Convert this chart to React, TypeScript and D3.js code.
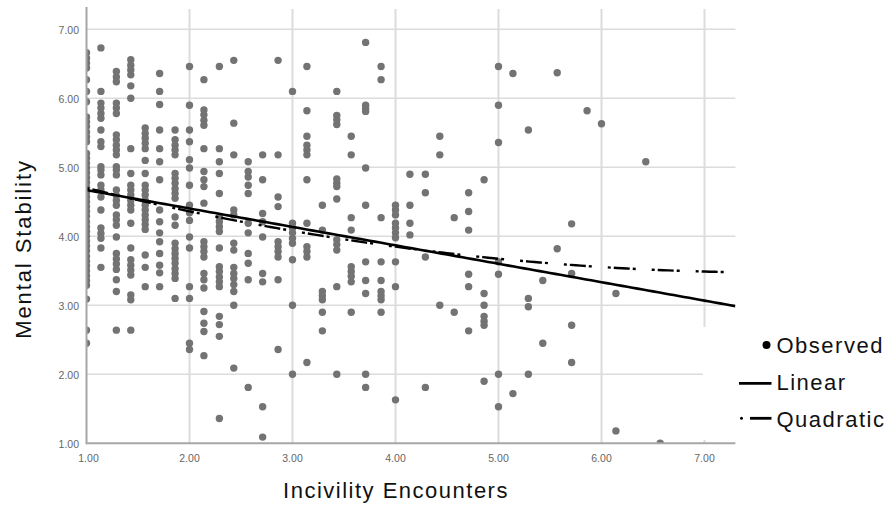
import React from 'react';
import * as d3 from 'd3';

// Incivility Encounters (x) levels and the Mental Stability scores observed at each level
const incivilityLevels = [
  1.0, 1.14, 1.29, 1.43, 1.57, 1.71, 1.86, 2.0, 2.14, 2.29, 2.43, 2.57, 2.71, 2.86,
  3.0, 3.14, 3.29, 3.43, 3.57, 3.71, 3.86, 4.0, 4.14, 4.29, 4.43, 4.57, 4.71, 4.86,
  5.0, 5.14, 5.29, 5.43, 5.57, 5.71, 5.86, 6.0, 6.14, 6.43, 6.57,
];

const stabilityScores: number[][] = [
  [6.66, 6.58, 6.51, 6.44, 6.27, 6.1, 5.95, 5.73, 5.66, 5.59, 5.51, 5.44, 5.37, 5.2, 5.13, 5.06, 4.99, 4.92, 4.85, 4.78, 4.71, 4.64, 4.57, 4.5, 4.43, 4.36, 4.29, 4.21, 4.14, 4.07, 4.0, 3.93, 3.86, 3.79, 3.71, 3.64, 3.57, 3.5, 3.43, 3.36, 3.29, 3.09, 2.64, 2.45],
  [6.73, 6.1, 5.93, 5.86, 5.78, 5.71, 5.54, 5.37, 5.3, 5.01, 4.96, 4.89, 4.74, 4.67, 4.57, 4.38, 4.12, 4.04, 3.97, 3.83, 3.55],
  [6.39, 6.31, 6.24, 5.93, 5.86, 5.78, 5.47, 5.4, 5.32, 5.25, 5.18, 5.01, 4.96, 4.89, 4.67, 4.59, 4.52, 4.45, 4.31, 4.24, 4.16, 3.99, 3.75, 3.67, 3.6, 3.52, 3.37, 3.2, 2.64],
  [6.56, 6.48, 6.41, 6.34, 6.18, 6.0, 5.27, 4.91, 4.74, 4.67, 4.6, 4.52, 4.45, 4.38, 4.19, 3.83, 3.66, 3.58, 3.51, 3.44, 3.15, 3.08, 2.64],
  [5.57, 5.49, 5.42, 5.35, 5.27, 5.1, 4.91, 4.74, 4.67, 4.6, 4.52, 4.45, 4.38, 4.31, 4.24, 4.17, 4.1, 3.73, 3.55, 3.27],
  [6.36, 6.1, 5.91, 5.54, 5.27, 5.08, 4.82, 4.38, 4.21, 4.05, 3.92, 3.75, 3.58, 3.47, 3.27],
  [5.54, 5.4, 5.32, 5.25, 5.18, 4.91, 4.84, 4.77, 4.69, 4.62, 4.55, 4.28, 4.16, 3.9, 3.82, 3.75, 3.68, 3.61, 3.53, 3.46, 3.39, 3.1],
  [6.46, 5.9, 5.54, 5.37, 5.11, 4.99, 4.74, 4.45, 4.34, 4.23, 3.99, 3.83, 3.27, 3.1, 2.45, 2.36],
  [6.27, 5.83, 5.76, 5.68, 5.61, 5.27, 4.94, 4.82, 4.72, 4.48, 3.92, 3.85, 3.78, 3.7, 3.46, 3.37, 3.25, 2.91, 2.74, 2.62, 2.27],
  [6.46, 5.27, 5.08, 4.91, 4.62, 4.28, 4.21, 4.14, 4.07, 3.83, 3.56, 3.49, 3.41, 3.34, 3.27, 2.84, 2.72, 2.55, 1.36],
  [6.55, 5.64, 5.18, 4.38, 4.31, 3.9, 3.8, 3.55, 3.46, 3.39, 3.3, 3.2, 3.0, 2.09],
  [5.08, 4.94, 4.86, 4.74, 4.62, 4.19, 4.05, 3.75, 3.61, 3.37, 1.81],
  [5.18, 4.82, 4.33, 4.21, 3.99, 3.46, 3.34, 1.53, 1.09],
  [6.55, 5.18, 4.57, 4.43, 3.92, 3.85, 3.78, 3.7, 3.37, 2.36],
  [6.1, 4.19, 4.12, 4.05, 3.97, 3.9, 3.66, 3.0, 2.0],
  [6.46, 5.82, 5.45, 5.32, 5.25, 5.18, 4.82, 4.19, 3.85, 3.78, 3.7, 2.17],
  [4.45, 4.09, 3.2, 3.14, 3.08, 2.9, 2.63],
  [6.1, 5.75, 5.69, 5.62, 4.83, 4.77, 4.72, 4.54, 3.95, 3.88, 3.8, 3.27, 2.0],
  [5.45, 5.18, 4.27, 4.09, 3.56, 3.49, 3.42, 3.34, 2.9],
  [6.81, 5.9, 5.85, 5.81, 4.99, 4.45, 3.63, 3.36, 3.17, 2.0, 1.81],
  [6.46, 6.27, 4.27, 3.63, 3.36, 3.2, 3.14, 3.08, 2.9],
  [4.45, 4.38, 4.31, 4.19, 4.12, 4.05, 3.98, 3.63, 3.27, 1.63],
  [4.9, 4.45, 4.19, 4.02],
  [4.9, 4.63, 3.7, 1.81],
  [5.45, 5.18, 3.0],
  [4.27, 2.9],
  [4.63, 4.36, 4.09, 3.45, 3.27, 2.63],
  [4.82, 3.17, 3.0, 2.84, 2.77, 2.71, 1.9],
  [6.46, 5.9, 5.36, 3.63, 3.45, 2.0, 1.53],
  [6.36, 1.72],
  [5.54, 3.1, 2.98, 2.0],
  [3.36, 2.45],
  [6.37, 3.82],
  [4.18, 3.46, 2.71, 2.17],
  [5.82],
  [5.63],
  [3.17, 1.18],
  [5.08],
  [1.0],
];

// Curve-estimation fits: linear [b0, b1], quadratic [b0, b1, b2]
const linearCoef = [4.937, -0.267];
const quadraticCoef = [5.092, -0.4194, 0.0272];

const xTicks = [1, 2, 3, 4, 5, 6, 7];
const yTicks = [1, 2, 3, 4, 5, 6, 7];
const legendLabels = ['Observed', 'Linear', 'Quadratic'];

const W = 892;
const H = 505;
const FONT = "'Liberation Sans', Arial, Helvetica, sans-serif";

export default function App() {
  const x = d3.scaleLinear().domain([1, 7.3]).range([86.5, 735.4]);
  const y = d3.scaleLinear().domain([1, 7.31]).range([443.3, 7.9]);
  const [x0, x1] = x.range();
  const [yBottom, yTop] = y.range();
  const fmt = d3.format('.2f');

  const points = incivilityLevels.flatMap((lv, i) =>
    stabilityScores[i].map((s) => ({ lv, s }))
  );

  const xs = d3.range(1, 7.3001, 0.05);
  const linearPath = d3
    .line<number>()
    .x((v) => x(v))
    .y((v) => y(linearCoef[0] + linearCoef[1] * v))(xs) as string;
  const quadPath = d3
    .line<number>()
    .x((v) => x(v))
    .y((v) => y(quadraticCoef[0] + quadraticCoef[1] * v + quadraticCoef[2] * v * v))(xs) as string;

  return (
    <div style={{ position: 'fixed', left: 0, top: 0, width: W, height: H, background: '#fff' }}>
      <svg width={W} height={H} style={{ display: 'block' }} fontFamily={FONT}>
        <defs>
          <clipPath id="plot-clip">
            <rect x={x0} y={yTop} width={x1 - x0} height={yBottom - yTop} />
          </clipPath>
        </defs>
        <rect x={0} y={0} width={W} height={H} fill="#fff" />

        {/* grid */}
        {yTicks.slice(1).map((t) => (
          <line key={'gy' + t} x1={x0} x2={x1} y1={y(t)} y2={y(t)} stroke="#dcdcdc" strokeWidth={1.6} />
        ))}
        {xTicks.slice(1).map((t) => (
          <line key={'gx' + t} x1={x(t)} x2={x(t)} y1={9} y2={yBottom} stroke="#dcdcdc" strokeWidth={2} />
        ))}

        {/* observed points */}
        <g clipPath="url(#plot-clip)">
          {points.map((p, i) => (
            <circle key={i} cx={x(p.lv)} cy={y(p.s)} r={3.7} fill="#737373" />
          ))}
        </g>

        {/* fitted curves */}
        <g clipPath="url(#plot-clip)" fill="none" stroke="#000" strokeWidth={2.6}>
          <path d={quadPath} strokeDasharray="3,3,16,3,3,16" strokeWidth={2.4} />
          <path d={linearPath} />
        </g>

        {/* axes */}
        <line x1={x0} x2={x0} y1={7} y2={yBottom + 1} stroke="#a6a6a6" strokeWidth={2} />
        <line x1={x0} x2={x1} y1={yBottom} y2={yBottom} stroke="#a6a6a6" strokeWidth={2} />

        {yTicks.map((t) => (
          <text key={'ty' + t} x={79} y={y(t) + 4.5} textAnchor="end" fontSize={10.5} fill="#666">
            {fmt(t)}
          </text>
        ))}
        {xTicks.map((t) => (
          <text key={'tx' + t} x={x(t) + (t === 1 ? 2 : 0)} y={462} textAnchor="middle" fontSize={10.5} fill="#666">
            {fmt(t)}
          </text>
        ))}

        {/* axis titles */}
        <text
          transform="translate(31,249) rotate(-90)"
          textAnchor="middle"
          fontSize={22}
          letterSpacing={1.9}
          fill="#111"
        >
          Mental Stability
        </text>
        <text x={396} y={498} textAnchor="middle" fontSize={22} letterSpacing={1.5} fill="#111">
          Incivility Encounters
        </text>

        {/* legend */}
        <rect x={703} y={327} width={W - 703} height={113} fill="#fff" />
        <circle cx={766.5} cy={345} r={4} fill="#000" />
        <line x1={739} x2={771.5} y1={383.3} y2={383.3} stroke="#000" strokeWidth={2.8} />
        <circle cx={741.5} cy={418.3} r={1.5} fill="#000" />
        <line x1={750} x2={771.5} y1={418.3} y2={418.3} stroke="#000" strokeWidth={2.8} />
        {legendLabels.map((lab, i) => (
          <text key={lab} x={776.5} y={352.7 + i * 37} fontSize={22} letterSpacing={1.5} fill="#111">
            {lab}
          </text>
        ))}
      </svg>
    </div>
  );
}
